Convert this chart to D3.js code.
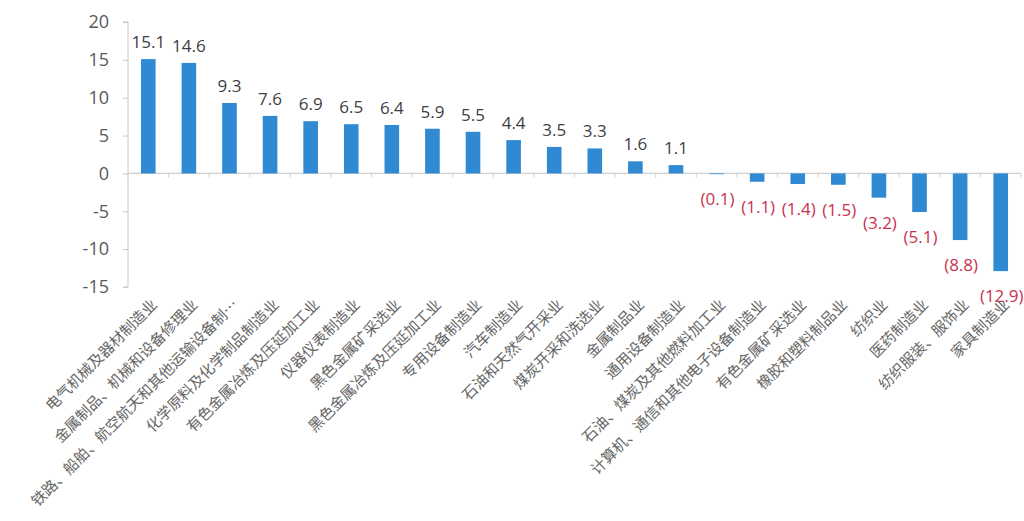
<!DOCTYPE html>
<html><head><meta charset="utf-8">
<script src="https://cdn.jsdelivr.net/npm/d3@7"></script>
<style>
body{margin:0;background:#fff;}
text{font-family:"Noto Sans CJK SC","Noto Sans",sans-serif;}
</style></head>
<body>
<svg id="c" width="1024" height="521"></svg>
<script>
const categories = ["电气机械及器材制造业","金属制品、机械和设备修理业","铁路、船舶、航空航天和其他运输设备制…","化学原料及化学制品制造业","有色金属冶炼及压延加工业","仪器仪表制造业","黑色金属矿采选业","黑色金属冶炼及压延加工业","专用设备制造业","汽车制造业","石油和天然气开采业","煤炭开采和洗选业","金属制品业","通用设备制造业","石油、煤炭及其他燃料加工业","计算机、通信和其他电子设备制造业","有色金属矿采选业","橡胶和塑料制品业","纺织业","医药制造业","纺织服装、服饰业","家具制造业"];
const values = [15.1,14.6,9.3,7.6,6.9,6.5,6.4,5.9,5.5,4.4,3.5,3.3,1.6,1.1,-0.1,-1.1,-1.4,-1.5,-3.2,-5.1,-8.8,-12.9];
const yTicks = [20,15,10,5,0,-5,-10,-15];

const svg = d3.select("#c");
const x = d3.scaleBand().domain(categories).range([128,1021]).paddingInner(0.64).paddingOuter(0.32);
const y = d3.scaleLinear().domain([-15,20]).range([287,22]);

// y axis
const ya = svg.append("g").attr("transform","translate(128,0)")
  .call(d3.axisLeft(y).tickValues(yTicks).tickSize(5).tickPadding(14).tickFormat(d=>String(d)));
ya.select(".domain").attr("stroke","#c8c8c8").attr("d","M-5,"+y(20)+"H0V"+y(-15)+"H-5");
ya.selectAll(".tick line").attr("stroke","#c8c8c8");
ya.selectAll(".tick text").attr("fill","#595959").style("font-size","18px").style("font-family","'Open Sans','Liberation Sans',sans-serif");

// zero line with ticks
const step = x.step();
svg.append("line").attr("x1",128).attr("x2",1021).attr("y1",y(0)).attr("y2",y(0)).attr("stroke","#d0d0d0").attr("stroke-width",1.2);
svg.append("g").selectAll("line").data(d3.range(categories.length+1)).join("line")
  .attr("x1",i=>128+i*step).attr("x2",i=>128+i*step).attr("y1",y(0)).attr("y2",y(0)+4).attr("stroke","#d0d0d0");

// bars
svg.append("g").selectAll("rect").data(values).join("rect")
  .attr("x",(d,i)=>x(categories[i])).attr("width",x.bandwidth())
  .attr("y",d=>y(Math.max(0,d))).attr("height",d=>Math.abs(y(d)-y(0)))
  .attr("fill","#2f8ad3");

// value labels
svg.append("g").selectAll("text").data(values).join("text")
  .attr("x",(d,i)=>x(categories[i])+x.bandwidth()/2+ (d<0?1:0))
  .attr("y",d=> d>=0 ? y(d)-11 : y(d)+31)
  .attr("text-anchor","middle")
  .attr("fill",d=>d>=0?"#404040":"#c8324f")
  .style("font-size","17px").style("font-family","'Open Sans','Liberation Sans',sans-serif")
  .text(d=> d>=0 ? d.toFixed(1) : "("+Math.abs(d).toFixed(1)+")");

// category labels
svg.append("g").selectAll("text").data(categories).join("text")
  .attr("transform",d=>`translate(${x(d)+x.bandwidth()/2+6},${302}) rotate(-45)`)
  .attr("text-anchor","end").attr("dy","0.35em")
  .attr("fill","#666").style("font-size","15px")
  .text(d=>d);
</script>
</body></html>
